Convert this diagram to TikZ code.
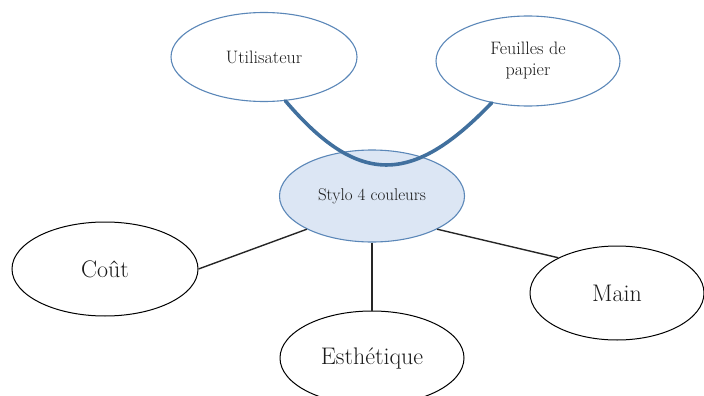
\documentclass[tikz,border=0pt]{standalone}
\usetikzlibrary{shapes.geometric}
\definecolor{blueline}{HTML}{5B87B8}
\definecolor{bluecurve}{HTML}{41709E}
\definecolor{bluefill}{HTML}{DCE6F4}
\definecolor{txt}{HTML}{1A1A1A}
\begin{document}
\begin{tikzpicture}[x=1pt,y=-1pt,
  bubble/.style={ellipse,draw,inner sep=0pt,line width=1pt,text=txt,align=center},
  topbubble/.style={bubble,draw=blueline,line width=1.1pt,minimum width=186pt,minimum height=89pt,font=\fontsize{18}{21}\selectfont},
  botbubble/.style={bubble,draw=black,minimum width=186pt,minimum height=94pt,font=\fontsize{24}{28}\selectfont},
  link/.style={line width=1.4pt,draw=black!85},
  curvelink/.style={line width=3.6pt,draw=bluecurve,line cap=round}]
\useasboundingbox (0,0) rectangle (704,396);
\node[topbubble] (u) at (264,57) {Utilisateur};
\node[topbubble,minimum width=184pt,minimum height=90pt] (f) at (528,61) {Feuilles de\\papier};
\node[bubble,draw=blueline,line width=1.1pt,fill=bluefill,minimum width=185pt,minimum height=92pt,font=\fontsize{17}{20}\selectfont] (s) at (372,196) {Stylo 4 couleurs};
\draw[curvelink] (u.-64) .. controls (358,186) and (412,186) .. (f.-131);
\node[botbubble] (c) at (105,269) {Coût};
\node[botbubble,minimum width=184pt] (e) at (372,358) {Esthétique};
\node[botbubble,minimum width=174pt] (m) at (617,293) {Main};
\draw[link] (s.-153) -- (c.east);
\draw[link] (s.south) -- (e.north);
\draw[link] (s.-27) -- (m.149);
\end{tikzpicture}
\end{document}
